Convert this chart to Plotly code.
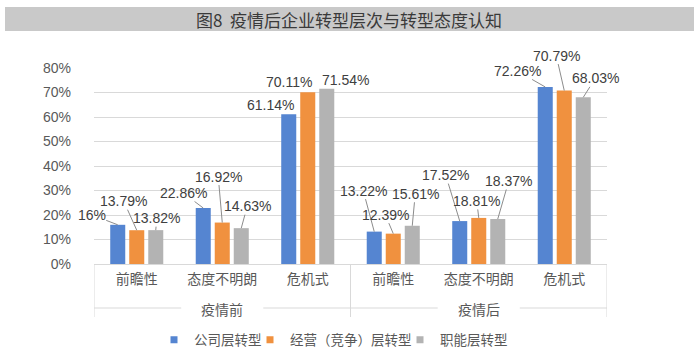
import plotly.graph_objects as go

# ---------------- data ----------------
groups = ["疫情前", "疫情后"]
categories = ["前瞻性", "态度不明朗", "危机式", "前瞻性", "态度不明朗", "危机式"]
series_names = ["公司层转型", "经营（竞争）层转型", "职能层转型"]
company = [16, 22.86, 61.14, 13.22, 17.52, 72.26]
business = [13.79, 16.92, 70.11, 12.39, 18.81, 70.79]
functional = [13.82, 14.63, 71.54, 15.61, 18.37, 68.03]
label_texts = [
    ["16%", "22.86%", "61.14%", "13.22%", "17.52%", "72.26%"],
    ["13.79%", "16.92%", "70.11%", "12.39%", "18.81%", "70.79%"],
    ["13.82%", "14.63%", "71.54%", "15.61%", "18.37%", "68.03%"],
]
y_ticks = [0, 10, 20, 30, 40, 50, 60, 70, 80]
y_tick_labels = [f"{v}%" for v in y_ticks]
title_text = "图8  疫情后企业转型层次与转型态度认知"

# ---------------- style ----------------
W, H = 700, 361
ML, MR, MT, MB = 94, 93, 68, 97
PW, PH = W - ML - MR, H - MT - MB
colors = ["#5585D1", "#F0913F", "#B3B3B3"]
FONT = "Liberation Sans, Arial, Noto Sans CJK SC"
CJK = "Noto Sans CJK SC"
TXT = "#404040"
AX = "#595959"
GRID = "#D9D9D9"
BARGAP = 0.333
GROUPGAP = 0.21
legend_left_px = [154, 250, 400]   # left edge of each legend box

# label offsets (pixels, text centre relative to bar top) and leader flag
label_offsets = [
    [(-26, -10, 1), (-20, -15, 1), (-18, -9, 0), (-11, -41, 1), (-14, -46, 1), (-28, -16, 1)],
    [(-13, -29, 1), (-4, -46, 1), (-19, -10, 0), (-8, -19, 1), (-2, -17, 1), (-8, -35, 1)],
    [(1, -12, 1), (6, -22, 1), (19, -9, 0), (3, -32, 1), (11, -38, 1), (12, -19, 1)],
]

def px_x(p):
    return (p - ML) / PW

def px_y(p):
    return (MT + PH - p) / PH

x_idx = list(range(len(categories)))
per_group = len(categories) // len(groups)
legend_ids = ["legend", "legend2", "legend3"]

fig = go.Figure()
all_values = [company, business, functional]
for name, vals, col in zip(series_names, all_values, colors):
    fig.add_trace(go.Bar(
        x=x_idx, y=vals, name=name,
        marker=dict(color=col, line=dict(width=0)),
        showlegend=False, hovertext=categories, hoverinfo="text+y",
    ))
# legend proxies (small square markers), one legend box per series
for name, col, lid in zip(series_names, colors, legend_ids):
    fig.add_trace(go.Scatter(
        x=[None], y=[None], mode="markers", name=name,
        marker=dict(symbol="square", size=7, color=col),
        showlegend=True, legend=lid,
    ))

# data labels with leader lines
slot = (1 - BARGAP) / 3
for j, (vals, texts) in enumerate(zip(all_values, label_texts)):
    for i, (v, t) in enumerate(zip(vals, texts)):
        dx, dy, lead = label_offsets[j][i]
        xpos = i + (j - 1) * slot
        if lead:
            fig.add_annotation(
                x=xpos, y=v, xref="x", yref="y", text=t,
                showarrow=True, arrowhead=0, arrowwidth=1, arrowcolor="#8C8C8C",
                ax=dx, ay=dy, standoff=0, startstandoff=0,
                font=dict(family=FONT, size=14, color=TXT),
                borderpad=0,
            )
        else:
            fig.add_annotation(
                x=xpos, y=v, xref="x", yref="y", text=t, showarrow=False,
                xanchor="center", yanchor="middle",
                xshift=dx, yshift=-dy,
                font=dict(family=FONT, size=14, color=TXT),
                borderpad=0,
            )

# title bar
fig.add_shape(type="rect", xref="paper", yref="paper",
              x0=px_x(5), x1=px_x(694), y0=px_y(31), y1=px_y(7),
              fillcolor="#C9C9C9", line=dict(width=0), layer="below")
fig.add_annotation(xref="paper", yref="paper", x=px_x(349), y=px_y(20),
                   xanchor="center", yanchor="middle",
                   text=title_text, showarrow=False,
                   font=dict(family=CJK, size=17, color="#3A3A3A"))

# group labels, dividers and side lines (Excel-style two-level axis)
for g, name in enumerate(groups):
    lo = g * per_group - 0.5
    hi = (g + 1) * per_group - 0.5
    mid = (lo + hi) / 2
    fig.add_annotation(x=mid, y=px_y(309), xref="x", yref="paper", text=name,
                       xanchor="center", yanchor="middle", showarrow=False,
                       font=dict(family=CJK, size=14, color=AX))
    fig.add_shape(type="line", xref="x", yref="paper", x0=lo, x1=mid - 0.48,
                  y0=px_y(308), y1=px_y(308), line=dict(color=GRID, width=1))
    fig.add_shape(type="line", xref="x", yref="paper", x0=mid + 0.48, x1=hi,
                  y0=px_y(308), y1=px_y(308), line=dict(color=GRID, width=1))
for b in range(len(groups) + 1):
    xb = b * per_group - 0.5
    fig.add_shape(type="line", xref="x", yref="paper", x0=xb, x1=xb,
                  y0=0, y1=px_y(317), line=dict(color=GRID, width=1))

legend_common = dict(orientation="h", yanchor="middle", xanchor="left",
                     font=dict(family=CJK, size=13.5, color=AX),
                     itemwidth=30, bgcolor="rgba(0,0,0,0)", borderwidth=0)
legends = {}
for lid, lx in zip(legend_ids, legend_left_px):
    legends[lid] = dict(legend_common, x=px_x(lx), y=px_y(340))

fig.update_layout(
    width=W, height=H,
    margin=dict(l=ML, r=MR, t=MT, b=MB, autoexpand=False),
    paper_bgcolor="white", plot_bgcolor="white",
    barmode="group", bargap=BARGAP, bargroupgap=GROUPGAP,
    font=dict(family=FONT, size=14, color=AX),
    showlegend=True,
    xaxis=dict(range=[-0.5, len(categories) - 0.5], tickvals=x_idx, ticktext=categories,
               showline=True, linecolor=GRID, linewidth=1, showgrid=False, zeroline=False,
               tickfont=dict(family=CJK, size=14, color=AX), ticks="",
               ticklabelstandoff=2),
    yaxis=dict(range=[0, 80], tickvals=y_ticks, ticktext=y_tick_labels,
               showgrid=True, gridcolor=GRID, gridwidth=1, zeroline=False,
               showline=False, ticks="", ticklabelstandoff=22,
               tickfont=dict(family=FONT, size=14, color=AX)),
    **legends,
)

fig.write_html("out.html", config={"displayModeBar": False},
               post_script="document.body.style.margin='0';")
